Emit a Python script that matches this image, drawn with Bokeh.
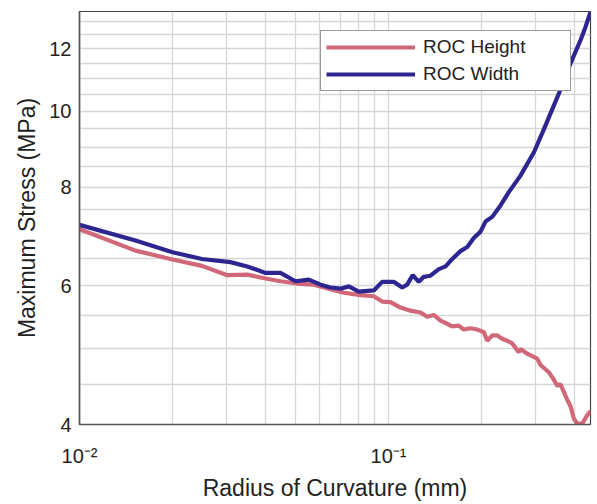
from bokeh.plotting import figure
from bokeh.models import FixedTicker, Legend, LegendItem
from bokeh.embed import file_html
from bokeh.resources import INLINE

# ROC Width (blue)
width_x = [0.0100, 0.01518, 0.0200, 0.0249, 0.0308, 0.0349, 0.0400, 0.0447, 0.0500, 0.0552,
           0.0603, 0.0649, 0.0699, 0.0744, 0.0801, 0.0896, 0.0954, 0.104, 0.1107, 0.1149,
           0.1198, 0.1253, 0.1301, 0.1367, 0.1455, 0.153, 0.1608, 0.171, 0.1798, 0.1888,
           0.1985, 0.206, 0.2166, 0.2304, 0.2451, 0.2674, 0.2953, 0.3182, 0.3387, 0.3604,
           0.3882, 0.4182, 0.4341, 0.4505]
width_y = [7.17, 6.85, 6.62, 6.49, 6.43, 6.35, 6.23, 6.23, 6.08, 6.11,
           6.02, 5.97, 5.95, 5.99, 5.90, 5.92, 6.07, 6.07, 5.97, 6.02,
           6.19, 6.07, 6.16, 6.18, 6.30, 6.35, 6.49, 6.64, 6.72, 6.90,
           7.03, 7.24, 7.34, 7.59, 7.89, 8.28, 8.86, 9.48, 10.05, 10.65,
           11.50, 12.30, 12.79, 13.36]

# ROC Height (pink)
height_x = [0.0100, 0.01518, 0.0200, 0.0249, 0.0301, 0.0349, 0.0400, 0.0447, 0.0506, 0.0573,
            0.0649, 0.0717, 0.0812, 0.0896, 0.0954, 0.1015, 0.1094, 0.1178, 0.1269, 0.1334,
            0.1402, 0.1473, 0.1549, 0.1608, 0.1688, 0.1752, 0.1842, 0.1936, 0.2035, 0.2087,
            0.2166, 0.2248, 0.2333, 0.2422, 0.2514, 0.2641, 0.2674, 0.2811, 0.3028, 0.3104,
            0.3302, 0.3428, 0.3516, 0.3604, 0.3693, 0.3787, 0.3882, 0.3979, 0.4081, 0.4236,
            0.4395, 0.4505]
height_y = [7.08, 6.65, 6.48, 6.36, 6.19, 6.20, 6.13, 6.08, 6.04, 6.02,
            5.94, 5.88, 5.84, 5.82, 5.73, 5.72, 5.63, 5.58, 5.55, 5.48,
            5.51, 5.42, 5.37, 5.33, 5.34, 5.28, 5.30, 5.28, 5.24, 5.11,
            5.19, 5.19, 5.14, 5.11, 5.07, 4.94, 4.99, 4.92, 4.85, 4.76,
            4.66, 4.56, 4.48, 4.50, 4.40, 4.30, 4.22, 4.07, 4.01, 4.01,
            4.11, 4.16]

x_major = [0.01, 0.1]
x_major_labels = ["10\u207b\u00b2", "10\u207b\u00b9"]
x_grid = [0.01, 0.02, 0.03, 0.04, 0.05, 0.06, 0.07, 0.08, 0.09, 0.1, 0.2, 0.3, 0.4]
y_major = [4, 6, 8, 10, 12]
y_grid = [4, 4.5, 5, 5.5, 6, 6.5, 7, 7.5, 8, 8.5, 9, 9.5, 10, 10.5, 11, 11.5, 12, 12.5, 13]

FONT = "Liberation Sans"

p = figure(width=596, height=503, x_axis_type="log", y_axis_type="log",
           x_range=(0.01, 0.4505), y_range=(4.0, 13.38),
           output_backend="svg", toolbar_location=None,
           min_border_left=79, min_border_top=11, min_border_bottom=75, min_border_right=6)

p.background_fill_color = "white"
p.border_fill_color = "white"
p.outline_line_color = "#444444"
p.outline_line_width = 1.2

# grids
p.xgrid.ticker = FixedTicker(ticks=x_grid)
p.ygrid.ticker = FixedTicker(ticks=y_grid)
for g in (p.xgrid, p.ygrid):
    g.grid_line_color = "#d6d6d6"
    g.grid_line_width = 1.3

# axes
p.xaxis.ticker = FixedTicker(ticks=x_major, minor_ticks=[])
p.yaxis.ticker = FixedTicker(ticks=y_major, minor_ticks=[])
p.xaxis.major_label_overrides = {v: s for v, s in zip(x_major, x_major_labels)}
p.yaxis.major_label_overrides = {v: str(v) for v in y_major}
for ax in (p.xaxis, p.yaxis):
    ax.axis_line_color = "#555555"
    ax.axis_line_width = 1.6
    ax.major_tick_line_color = None
    ax.minor_tick_line_color = None
    ax.major_tick_out = 0
    ax.major_tick_in = 0
    ax.minor_tick_out = 0
    ax.minor_tick_in = 0
    ax.major_label_text_font = FONT
    ax.major_label_text_font_size = "20px"
    ax.major_label_text_color = "#222222"
    ax.axis_label_text_font = FONT
    ax.axis_label_text_font_size = "23px"
    ax.axis_label_text_font_style = "normal"
    ax.axis_label_text_color = "#222222"

p.xaxis.axis_label = "Radius of Curvature (mm)"
p.yaxis.axis_label = "Maximum Stress (MPa)"
p.xaxis.major_label_standoff = 20
p.xaxis.axis_label_standoff = 5
p.yaxis.major_label_standoff = 8
p.yaxis.axis_label_standoff = 6

r_h = p.line(height_x, height_y, line_color="#D0687A", line_width=4.2)
r_w = p.line(width_x, width_y, line_color="#2E2690", line_width=4.2)

legend = Legend(items=[LegendItem(label="ROC Height", renderers=[r_h]),
                       LegendItem(label="ROC Width", renderers=[r_w])],
                location="top_right")
legend.margin = 19
legend.padding = 5
legend.spacing = 5
legend.glyph_width = 89
legend.glyph_height = 20
legend.label_height = 20
legend.label_width = 142
legend.label_standoff = 8
legend.label_text_font = FONT
legend.label_text_font_size = "19px"
legend.label_text_color = "#222222"
legend.border_line_color = "#333333"
legend.border_line_width = 1.3
legend.background_fill_color = "white"
legend.background_fill_alpha = 1.0
p.add_layout(legend, "center")

open("out.html", "w").write(file_html(p, INLINE))
